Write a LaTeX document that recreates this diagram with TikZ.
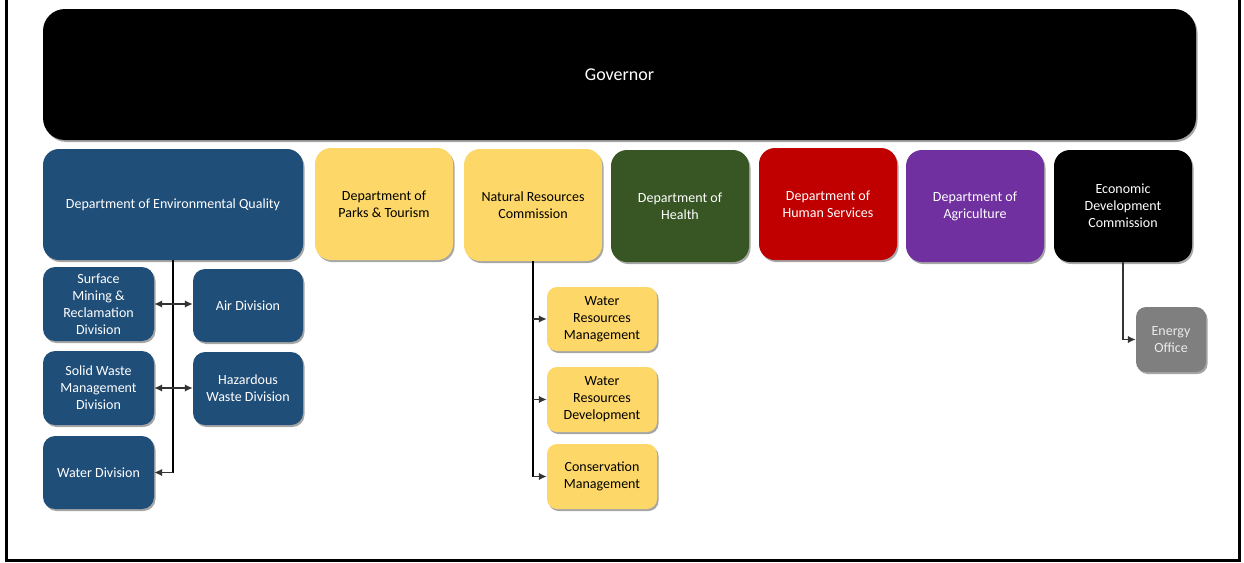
\documentclass[tikz,border=0pt]{standalone}
\usepackage{fontspec}
\setmainfont{Carlito}
\usetikzlibrary{arrows.meta,shadows}
\definecolor{deqblue}{HTML}{1F4E79}
\definecolor{sand}{HTML}{FDD868}
\definecolor{forest}{HTML}{375623}
\definecolor{crimson}{HTML}{C00000}
\definecolor{violet}{HTML}{7030A0}
\definecolor{slate}{HTML}{7F7F7F}
\tikzset{
  unit/.style={rounded corners=#1, inner sep=2pt, align=center,
    font=\fontsize{14pt}{17pt}\selectfont,
    drop shadow={shadow xshift=1.5pt, shadow yshift=-2pt, opacity=0.35, fill=black}},
  unit/.default=16pt,
  dark/.style={text=white},
  light/.style={text=black},
  trunk/.style={line width=2pt, black},
  branch/.style={line width=1.6pt, black!80, -{Latex[length=8pt,width=7.5pt]}},
}
\begin{document}
\begin{tikzpicture}[x=1pt, y=-1pt]
\useasboundingbox (0,0) rectangle (1244,562);
% frame (open at the top)
\draw[line width=3pt] (6,-10) -- (6,560) -- (1239,560) -- (1239,-10);

% governor
\node[unit=22pt, fill=black, dark, minimum width=1153pt, minimum height=131pt,
      font=\fontsize{18pt}{21pt}\selectfont] (gov) at (619.5,74.5) {Governor};

% departments
\node[unit, fill=deqblue, dark, minimum width=260pt, minimum height=111pt] (deq) at (173,204.5)
  {Department of Environmental Quality};
\node[unit, fill=sand, light, minimum width=138pt, minimum height=112pt] (parks) at (384,204)
  {Department of\\Parks \& Tourism};
\node[unit, fill=sand, light, minimum width=138pt, minimum height=112pt] (nrc) at (533,205)
  {Natural Resources\\Commission};
\node[unit, fill=forest, dark, minimum width=138pt, minimum height=112pt] (health) at (680,206)
  {Department of\\Health};
\node[unit, fill=crimson, dark, minimum width=138pt, minimum height=112pt] (hs) at (828,204)
  {Department of\\Human Services};
\node[unit, fill=violet, dark, minimum width=138pt, minimum height=112pt] (agr) at (975,206)
  {Department of\\Agriculture};
\node[unit, fill=black, dark, minimum width=138pt, minimum height=112pt] (edc) at (1123,206)
  {Economic\\Development\\Commission};

% environmental quality divisions
\node[unit=12pt, fill=deqblue, dark, minimum width=111pt, minimum height=74pt] (surf) at (98.5,304)
  {Surface\\Mining \&\\Reclamation\\Division};
\node[unit=12pt, fill=deqblue, dark, minimum width=110pt, minimum height=73pt] (air) at (248,305.5)
  {Air Division};
\node[unit=12pt, fill=deqblue, dark, minimum width=111pt, minimum height=74pt] (solid) at (98.5,388)
  {Solid Waste\\Management\\Division};
\node[unit=12pt, fill=deqblue, dark, minimum width=110pt, minimum height=73pt] (haz) at (248,388.5)
  {Hazardous\\Waste Division};
\node[unit=12pt, fill=deqblue, dark, minimum width=111pt, minimum height=73pt] (water) at (98.5,472.5)
  {Water Division};

% natural resources units
\node[unit=10pt, fill=sand, light, minimum width=110pt, minimum height=64pt] (wrm) at (602,319)
  {Water\\Resources\\Management};
\node[unit=10pt, fill=sand, light, minimum width=110pt, minimum height=65pt] (wrd) at (602,399.5)
  {Water\\Resources\\Development};
\node[unit=10pt, fill=sand, light, minimum width=110pt, minimum height=65pt] (cm) at (602,476.5)
  {Conservation\\Management};

% economic development unit
\node[unit=10pt, fill=slate, text=white!92!black, minimum width=70pt, minimum height=65pt] (energy) at (1171,339.5)
  {Energy\\Office};

% connectors: environmental quality
\draw[trunk] (deq.south) -- (deq.south |- water.east);
\draw[branch] (deq.south |- surf.east) -- (surf.east);
\draw[branch] (deq.south |- surf.east) -- (air.west |- surf.east);
\draw[branch] (deq.south |- solid.east) -- (solid.east);
\draw[branch] (deq.south |- solid.east) -- (haz.west |- solid.east);
\draw[branch] (deq.south |- water.east) -- (water.east);

% connectors: natural resources
\draw[trunk] (nrc.south) -- (nrc.south |- cm.west);
\draw[branch] (nrc.south |- wrm.west) -- (wrm.west);
\draw[branch] (nrc.south |- wrd.west) -- (wrd.west);
\draw[branch] (nrc.south |- cm.west) -- (cm.west);

% connectors: economic development
\draw[line width=1.2pt, black!80] (edc.south) -- (edc.south |- energy.west);
\draw[branch] (edc.south |- energy.west) -- (energy.west);
\end{tikzpicture}
\end{document}
